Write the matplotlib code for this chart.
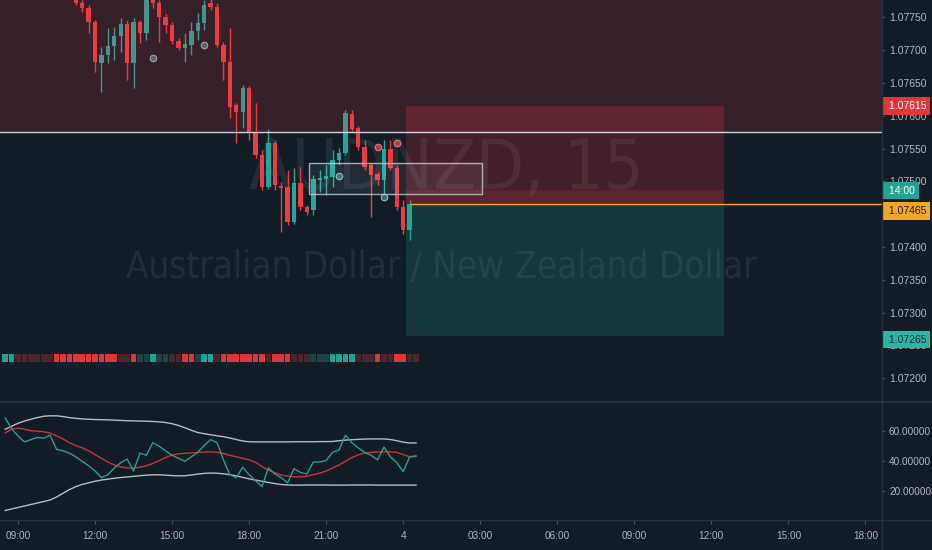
import os
import matplotlib.pyplot as plt
from matplotlib import font_manager
from matplotlib.font_manager import FontProperties
from matplotlib.patches import Rectangle
from matplotlib.lines import Line2D
from matplotlib.transforms import offset_copy

# ---- values (15 min bars, bar 0 = 09:00 on the 3rd) ----
bar_idx = list(range(9, 62))
opens = [1.07783, 1.07772, 1.07764, 1.07743, 1.07680, 1.07693, 1.07706, 1.07722, 1.07740, 1.07680,
         1.07743, 1.07726, 1.07779, 1.07772, 1.07750, 1.07738, 1.07714, 1.07703, 1.07708, 1.07729,
         1.07741, 1.07772, 1.07766, 1.07708, 1.07682, 1.07616, 1.07606, 1.07642, 1.07574, 1.07540,
         1.07491, 1.07558, 1.07493, 1.07491, 1.07438, 1.07497, 1.07461, 1.07456, 1.07502, 1.07504,
         1.07507, 1.07533, 1.07543, 1.07603, 1.07581, 1.07552, 1.07525, 1.07511, 1.07502, 1.07549,
         1.07520, 1.07461, 1.07426]
highs = [1.07789, 1.07776, 1.07769, 1.07746, 1.07705, 1.07734, 1.07735, 1.07749, 1.07746, 1.07749,
         1.07746, 1.07786, 1.07785, 1.07776, 1.07755, 1.07743, 1.07718, 1.07726, 1.07743, 1.07757,
         1.07776, 1.07779, 1.07772, 1.07712, 1.07734, 1.07619, 1.07647, 1.07645, 1.07619, 1.07548,
         1.07580, 1.07563, 1.07499, 1.07517, 1.07520, 1.07522, 1.07464, 1.07510, 1.07517, 1.07525,
         1.07548, 1.07551, 1.07609, 1.07609, 1.07584, 1.07563, 1.07528, 1.07514, 1.07563, 1.07563,
         1.07525, 1.07472, 1.07472]
lows = [1.07769, 1.07758, 1.07726, 1.07667, 1.07636, 1.07680, 1.07685, 1.07697, 1.07654, 1.07642,
        1.07711, 1.07715, 1.07764, 1.07712, 1.07726, 1.07709, 1.07700, 1.07682, 1.07693, 1.07715,
        1.07731, 1.07761, 1.07705, 1.07654, 1.07597, 1.07558, 1.07581, 1.07563, 1.07536, 1.07487,
        1.07488, 1.07487, 1.07423, 1.07434, 1.07435, 1.07456, 1.07449, 1.07449, 1.07484, 1.07479,
        1.07491, 1.07525, 1.07540, 1.07577, 1.07548, 1.07517, 1.07446, 1.07494, 1.07479, 1.07517,
        1.07456, 1.07420, 1.07411]
closes = [1.07772, 1.07764, 1.07743, 1.07682, 1.07693, 1.07706, 1.07722, 1.07740, 1.07680, 1.07743,
          1.07726, 1.07779, 1.07772, 1.07750, 1.07738, 1.07714, 1.07703, 1.07709, 1.07729, 1.07741,
          1.07769, 1.07766, 1.07708, 1.07682, 1.07613, 1.07606, 1.07642, 1.07574, 1.07540, 1.07491,
          1.07558, 1.07494, 1.07490, 1.07438, 1.07497, 1.07461, 1.07453, 1.07504, 1.07505, 1.07508,
          1.07533, 1.07543, 1.07604, 1.07580, 1.07552, 1.07522, 1.07510, 1.07502, 1.07549, 1.07520,
          1.07461, 1.07426, 1.07465]

buy_dot_idx = [21, 29, 50, 57]
buy_dot_price = [1.07688, 1.07708, 1.07508, 1.07476]
sell_dot_idx = [56, 59]
sell_dot_price = [1.07552, 1.07558]

# strip indicator: T/R strong bull/bear, t/r weak
strip_start = -2
strip_states = "TTrrrrrrRRRRRRRRRRrrRttTttrrRRtTTrRRRRRRRrRRRrrrtttTTTTrrrRrrRRrr"

# lower pane: RSI, its average and bands (bars -2 .. 62)
ind_start = -2
rsi = [69, 62, 57, 53, 54.5, 56, 55.5, 57.5, 48, 47, 45.5, 43, 40, 37, 33.5, 29, 31, 35.5, 39, 41.5,
       33.5, 45.5, 44, 52.5, 50, 47, 44, 42, 40, 43, 46, 50.5, 54.5, 52.5, 41, 31, 29, 36, 31, 27,
       23, 35.5, 31.5, 29, 25.5, 35, 32.5, 31.5, 39.5, 39.5, 40.5, 46, 47.5, 57.5, 52.5, 49, 46, 44,
       41, 49.5, 43, 39, 33, 43, 43.5]
rsi_ma = [59, 61.5, 62.3, 61.5, 60.5, 60.2, 59.8, 59, 57, 55, 52.5, 50.5, 49, 47, 44.5, 42, 39.5,
          37.5, 36.3, 35.5, 35.5, 36, 37, 38.5, 40.5, 42.5, 44.2, 45, 45.3, 45.6, 45.9, 46.2, 46.3,
          46, 45.2, 44, 43, 42, 41, 39.3, 36.5, 34, 32.3, 30.8, 30, 29.6, 29.5, 30, 31, 32, 33.5,
          35.5, 37.5, 40, 42.5, 44.3, 45.5, 46, 46.2, 46.3, 46.3, 46, 44.5, 43, 43.5]
band_up = [61.5, 63.5, 65.5, 67, 68.2, 69.3, 70.2, 70.5, 70.5, 70, 69.3, 68.8, 68.4, 68.2, 68.0,
           67.9, 67.8, 67.6, 67.4, 67.2, 67.1, 67.0, 66.9, 66.7, 66.4, 66.0, 65.2, 64.0, 62.5, 60.8,
           59.3, 58.5, 57.8, 57.1, 56.5, 55.6, 54.6, 53.6, 53.1, 53.0, 53.0, 53.0, 53.0, 53.0, 53.0,
           53.1, 53.1, 53.1, 53.1, 53.2, 53.2, 53.3, 53.8, 54.2, 54.5, 54.7, 54.9, 55.0, 55.0, 55.0,
           54.6, 53.8, 52.8, 52.3, 52.3]
band_dn = [7, 8, 9, 10, 11, 12, 13, 14, 16, 18.5, 21, 23, 24.5, 25.5, 26.6, 27.4, 28.0, 28.6, 29.1,
           29.5, 29.9, 30.3, 30.7, 30.9, 30.9, 30.7, 30.4, 30.2, 30.3, 30.8, 31.4, 31.9, 32.1, 32.0,
           31.6, 31.0, 30.2, 29.2, 28.2, 27.4, 26.6, 25.8, 25.0, 24.4, 24.1, 24.0, 24.0, 24.1, 24.1,
           24.1, 24.1, 24.0, 24.0, 24.0, 24.1, 24.1, 24.1, 24.1, 24.0, 24.0, 24.0, 24.0, 24.0, 24.0, 24.0]

# drawings
zone_line = 1.07575
entry_price = 1.07465
stop_price = 1.07615
target_price = 1.07265
band_price = 1.07487
position_x = (60.4, 110.0)
box_x = (45.3, 72.3)
box_y = (1.07481, 1.07528)

time_ticks = [0, 12, 24, 36, 48, 60, 72, 84, 96, 108, 120, 132]
time_labels = ["09:00", "12:00", "15:00", "18:00", "21:00", "4", "03:00", "06:00",
               "09:00", "12:00", "15:00", "18:00"]
price_ticks = [1.07200, 1.07250, 1.07300, 1.07350, 1.07400, 1.07450, 1.07500, 1.07550,
               1.07600, 1.07650, 1.07700, 1.07750]
ind_ticks = [20, 40, 60]

BG = "#111c25"
TXT = "#b2b5be"
LINE = "#26313b"
UP = "#26a69a"
DN = "#ef3b40"
strip_colors = {"T": "#22a392", "R": "#e0333a", "t": "#1c4346", "r": "#4a252d"}

plt.rcParams['font.family'] = ['Liberation Sans', 'DejaVu Sans']

# the watermark in the original uses a narrow face; take one if installed
narrow_file = None
for f in font_manager.fontManager.ttflist:
    base = os.path.basename(f.fname)
    if ('Narrow' in base or 'Condensed' in base) and not any(
            w in base for w in ('Bold', 'Italic', 'Oblique', 'Light', 'Thin', 'Black', 'Medium', 'Semi', 'Extra')):
        narrow_file = f.fname
        break
wm_prop = FontProperties(fname=narrow_file) if narrow_file else FontProperties(family='Liberation Sans')

fig = plt.figure(figsize=(9.32, 5.5), dpi=100)
fig.patch.set_facecolor(BG)
ax = fig.add_axes([0, 149 / 550, 882 / 932, 401 / 550])
ax2 = fig.add_axes([0, 30 / 550, 882 / 932, 117 / 550], sharex=ax)
for a in (ax, ax2):
    a.set_facecolor(BG)
    for s in a.spines.values():
        s.set_visible(False)

xlim = (-18 / 6.42, 864 / 6.42)
ax.set_xlim(*xlim)
ax.set_ylim(1.071653, 1.077764)
ax2.set_ylim(0.6, 79.1)

# watermark, sized to the width it has in the original
renderer = fig.canvas.get_renderer()
wm1 = ax.text(0.506, 0.529, "AUDNZD, 15", transform=ax.transAxes, ha='center', va='baseline',
              fontproperties=wm_prop, fontsize=60, color='#d1d4dc', alpha=0.09, zorder=0.5)
wm2 = ax.text(0.5, 0.307, "Australian Dollar / New Zealand Dollar", transform=ax.transAxes,
              ha='center', va='baseline', fontproperties=wm_prop, fontsize=28, color='#d1d4dc',
              alpha=0.09, zorder=0.5)
for t, target_w in ((wm1, 395), (wm2, 628)):
    w = t.get_window_extent(renderer).width
    t.set_fontsize(t.get_fontsize() * target_w / w)

# candles
for i, o, h, l, c in zip(bar_idx, opens, highs, lows, closes):
    col = UP if c >= o else DN
    ax.vlines(i, l, h, color=col, lw=1, zorder=2)
    ax.bar(i, max(abs(c - o), 0.000018), bottom=min(o, c), width=0.68, color=col, lw=0, zorder=2)

ax.scatter(buy_dot_idx, buy_dot_price, s=22, facecolor='#3a6f70', edgecolor='#8fb8b4', lw=0.8, zorder=2.5)
ax.scatter(sell_dot_idx, sell_dot_price, s=22, facecolor='#b83a42', edgecolor='#e0787c', lw=0.8, zorder=2.5)

# strip
for k, st in enumerate(strip_states):
    ax.bar(strip_start + k, 0.00012, bottom=1.07225, width=0.88, color=strip_colors[st], lw=0, zorder=2)

# resistance zone (drawn over the candles, like the original)
ax.axhspan(zone_line, 1.0785, color='#f23645', alpha=0.17, lw=0, zorder=3)
ax.axhline(zone_line, color='#d1d4dc', lw=1, zorder=4)

# short position tool
ax.fill_between(position_x, entry_price, stop_price, color='#f23645', alpha=0.22, lw=0, zorder=3)
ax.fill_between(position_x, entry_price, band_price, color='#f23645', alpha=0.15, lw=0, zorder=3)
ax.fill_between(position_x, target_price, entry_price, color='#22ab94', alpha=0.2, lw=0, zorder=3)
ax.hlines(entry_price, bar_idx[-1], xlim[1], color='#f5a623', lw=1, zorder=4)

# rectangle drawing
ax.add_patch(Rectangle((box_x[0], box_y[0]), box_x[1] - box_x[0], box_y[1] - box_y[0],
                       facecolor='white', alpha=0.07, edgecolor='none', zorder=3))
ax.add_patch(Rectangle((box_x[0], box_y[0]), box_x[1] - box_x[0], box_y[1] - box_y[0],
                       facecolor='none', edgecolor='#c9ccd4', lw=1, alpha=0.8, zorder=4))

# price axis
ax.yaxis.tick_right()
ax.set_yticks(price_ticks)
ax.set_yticklabels([f"{p:.5f}" for p in price_ticks])
ax.tick_params(axis='y', colors=TXT, labelsize=7.5, length=2.5, pad=2.5, width=0.8)
ax.tick_params(axis='y', color='#4a535c')
ax.tick_params(axis='x', bottom=False, labelbottom=False)

label_tf = offset_copy(ax.get_yaxis_transform(), fig=fig, x=3.0, y=0, units='points')

def axis_label(y, txt, fc, tc):
    ax.text(1.0, y, txt, transform=label_tf, ha='left', va='center', fontsize=7.5,
            color=tc, clip_on=False, zorder=10,
            bbox=dict(boxstyle='square,pad=0.36', fc=fc, ec='none'))

axis_label(stop_price, " 1.07615", '#e0373d', 'white')
axis_label(1.07486, " 14:00", '#22a392', 'white')
axis_label(1.07455, " 1.07465", '#f5a623', '#1a1a1a')
axis_label(1.07259, " 1.07265", '#2bb5a3', '#10262a')

# lower pane
xs = list(range(ind_start, ind_start + len(rsi)))
ax2.plot(xs, band_up, color='#b7bcc4', lw=1)
ax2.plot(xs, band_dn, color='#b7bcc4', lw=1)
ax2.plot(xs, rsi_ma, color='#c8323b', lw=1)
ax2.plot(xs, rsi, color='#2a9d90', lw=1)
ax2.yaxis.tick_right()
ax2.set_yticks(ind_ticks)
ax2.set_yticklabels([f"{v:.5f}" for v in ind_ticks])
ax2.tick_params(axis='y', colors=TXT, labelsize=7.2, length=2.5, pad=2.5, width=0.8)
ax2.tick_params(axis='y', color='#4a535c')
ax2.set_xticks(time_ticks)
ax2.set_xticklabels(time_labels)
ax2.tick_params(axis='x', colors=TXT, labelsize=7.2, length=3, pad=5, width=0.8)
ax2.tick_params(axis='x', color='#4a535c')
ax2.set_xlim(*xlim)

# pane separators
fig.add_artist(Line2D([0, 1], [148 / 550, 148 / 550], color=LINE, lw=1.5))
fig.add_artist(Line2D([0, 1], [30 / 550, 30 / 550], color=LINE, lw=1))
fig.add_artist(Line2D([882 / 932, 882 / 932], [0, 1], color=LINE, lw=1))

fig.savefig("out.png", dpi=100, facecolor=BG)
